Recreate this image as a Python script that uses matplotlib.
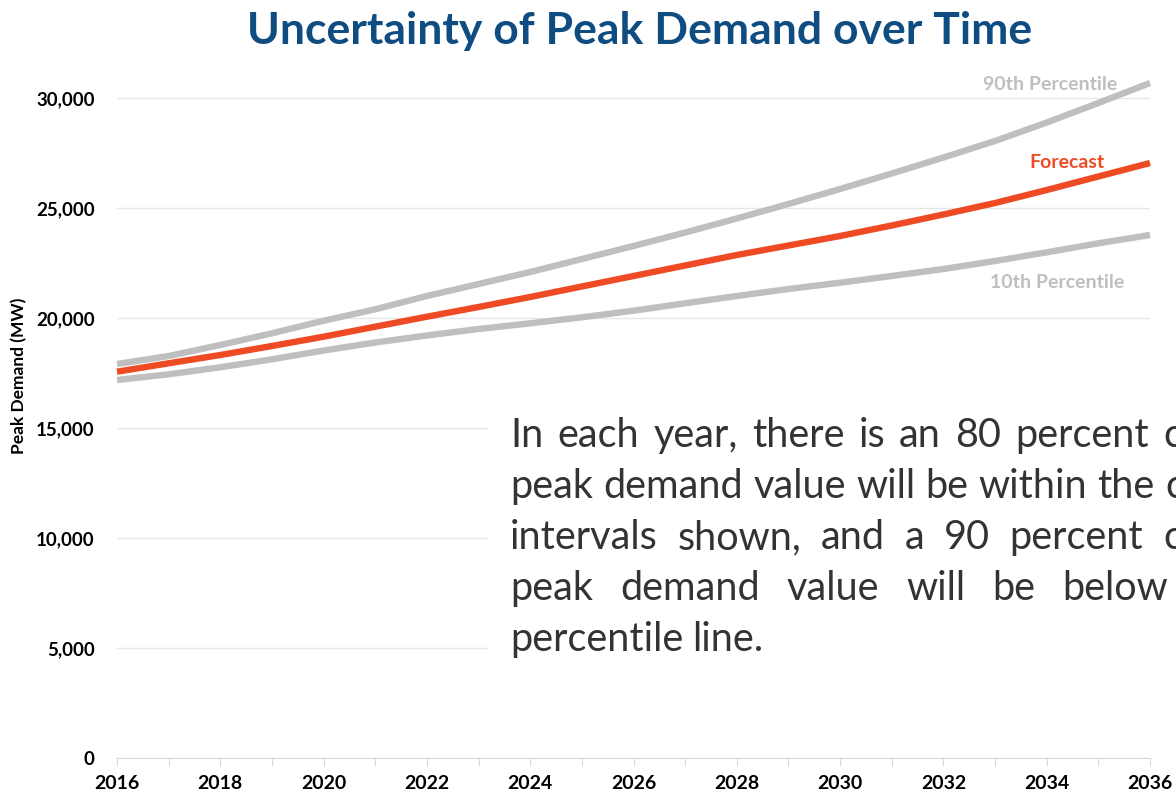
import matplotlib
matplotlib.use("Agg")
import matplotlib.pyplot as plt
from matplotlib.patches import Rectangle

# values (MW)
years = list(range(2016, 2037))
forecast = [17559, 17941, 18318, 18727, 19150, 19605, 20059, 20500, 20955, 21432,
            21909, 22386, 22864, 23295, 23727, 24205, 24705, 25227, 25818, 26432, 27045]
p90 = [17909, 18273, 18773, 19305, 19877, 20395, 21000, 21545, 22091, 22682,
       23273, 23886, 24523, 25182, 25864, 26568, 27295, 28045, 28886, 29773, 30682]
p10 = [17182, 17441, 17759, 18123, 18523, 18886, 19205, 19500, 19759, 20032,
       20332, 20668, 21000, 21318, 21605, 21909, 22227, 22591, 22986, 23395, 23773]
ytick_vals = [0, 5000, 10000, 15000, 20000, 25000, 30000]
xtick_labels = [str(y) if y % 2 == 0 else "" for y in years]

note_lines = [
    "In each year, there is an 80 percent chance",
    "peak demand value will be within the confidence",
    "intervals shown, and a 90 percent chance",
    "peak demand value will be below",
    "percentile line.",
]

W, H = 1176, 795
plt.rcParams["font.family"] = ["Lato", "DejaVu Sans"]
fig = plt.figure(figsize=(W / 100, H / 100), dpi=100)
ax = fig.add_axes([117 / W, 1 - 758 / H, (1150 - 117) / W, (758 - 54) / H])

grey = "#BFBFBF"
red = "#EE4B24"
ax.plot(years, p10, color=grey, lw=4.6, solid_capstyle="butt", clip_on=False)
ax.plot(years, p90, color=grey, lw=4.6, solid_capstyle="butt", clip_on=False)
ax.plot(years, forecast, color=red, lw=4.6, solid_capstyle="butt", clip_on=False)

ax.set_xlim(2016, 2036)
ax.set_ylim(0, 32000)
ax.set_xticks(years)
ax.set_xticklabels(xtick_labels, fontsize=14, fontweight="bold")
ax.set_yticks(ytick_vals)
ax.set_yticklabels([f"{v:,}" for v in ytick_vals], fontsize=13.5, fontweight="bold")
ax.tick_params(axis="x", length=6, color="#D9D9D9", pad=6)
ax.tick_params(axis="y", length=0, pad=16)
ax.grid(axis="y", color="#E6E6E6", lw=1)
ax.set_axisbelow(True)
for s in ["top", "right", "left"]:
    ax.spines[s].set_visible(False)
ax.spines["bottom"].set_color("#D9D9D9")

ax.text(2035.36, 30636, "90th Percentile", color=grey, fontsize=14, fontweight="bold",
        ha="right", va="center")
ax.text(2035.13, 27090, "Forecast", color=red, fontsize=14, fontweight="bold",
        ha="right", va="center")
ax.text(2035.5, 21636, "10th Percentile", color=grey, fontsize=14, fontweight="bold",
        ha="right", va="center")

fig.text(19 / W, 1 - 376 / H, "Peak Demand (MW)", rotation=90, fontsize=12.5,
         fontweight="bold", ha="center", va="center")
fig.text(640 / W, 1 - 31 / H, "Uncertainty of Peak Demand over Time", color="#0E4C82",
         fontsize=32, fontweight="bold", ha="center", va="center")

# white text box covering the gridlines
fig.patches.append(Rectangle((488 / W, 1 - 690 / H), 1, (690 - 405) / H, transform=fig.transFigure,
                             facecolor="white", edgecolor="none", zorder=5))

# justified paragraph, word by word
fig.canvas.draw()
rend = fig.canvas.get_renderer()
x0 = 510

# pick a font size so that line 2 (normal spacing) reaches its last word at x=1165
probe = fig.text(0, 0, "peak demand value will be within the c", fontsize=23)
probe_c = fig.text(0, 0, "c", fontsize=23)
w_line = probe.get_window_extent(rend).width - probe_c.get_window_extent(rend).width
probe.remove()
probe_c.remove()
fs = 23 * (1165 - x0) / w_line

baselines = [447, 498, 549, 600, 651]
ends = [("left", 1163), ("left", 1165), ("left", 1163), ("right", 1168), None]
for line, yb, end in zip(note_lines, baselines, ends):
    words = line.split()
    objs = [fig.text(0, 1 - yb / H, w, fontsize=fs, color="#333333", va="baseline",
                     zorder=6) for w in words]
    widths = [o.get_window_extent(rend).width for o in objs]
    if end is None:
        gap = fs * 100 / 72 * 0.23
    elif end[0] == "left":
        gap = (end[1] - x0 - sum(widths[:-1])) / (len(words) - 1)
    else:
        gap = (end[1] - x0 - sum(widths)) / (len(words) - 1)
    x = x0
    for o, w in zip(objs, widths):
        o.set_x(x / W)
        x += w + gap

fig.savefig("out.png", dpi=100)
